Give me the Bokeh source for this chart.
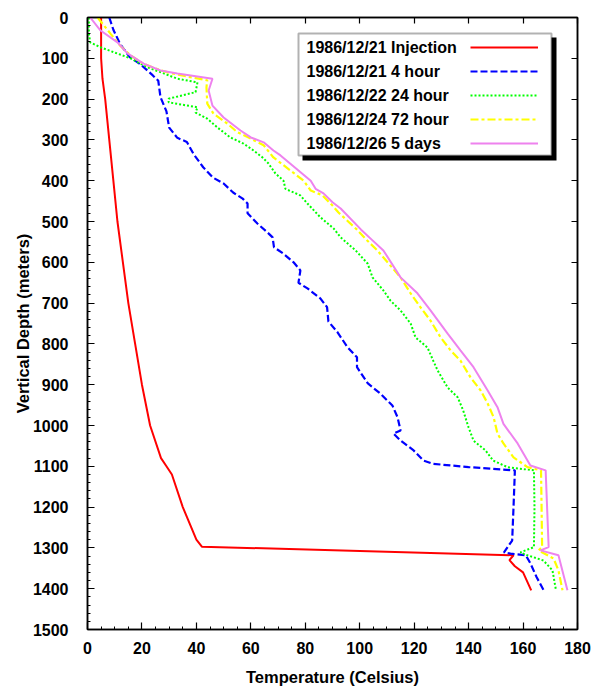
from bokeh.plotting import figure
from bokeh.models import Range1d, LinearAxis, FixedTicker, Legend, LegendItem, Label, BoxAnnotation
from bokeh.embed import file_html
from bokeh.resources import INLINE

# ---- data (temperature in Celsius, depth in meters) ----
red_depth = [0, 100, 150, 200, 300, 400, 500, 600, 700, 800, 900, 1000, 1080, 1100, 1120, 1200, 1280, 1297, 1318, 1330, 1345, 1360, 1404]
red_temp = [5, 5, 5.5, 6.5, 8, 9.5, 11, 13, 15, 17.5, 20, 23, 27, 29, 31, 35, 40, 42, 156.5, 155, 157, 160, 163]

blue_depth = [0, 30, 65, 97, 115, 142, 155, 195, 230, 270, 295, 305, 335, 367, 392, 407, 429, 444, 456, 480, 505, 526, 539, 563, 579, 600, 620, 650, 664, 689, 710, 745, 771, 808, 833, 857, 897, 922, 951, 980, 1012, 1020, 1037, 1061, 1086, 1094, 1102, 1110, 1200, 1282, 1311, 1314, 1318, 1338, 1372, 1404]
blue_temp = [8, 9.5, 12, 15.5, 19.5, 24, 26, 26.8, 29, 30, 33, 36.5, 39, 42.5, 46, 50, 53.5, 57, 58.8, 58.8, 62.4, 66, 68, 68.5, 72, 75.7, 78.2, 77.5, 80.8, 85.6, 88, 88.5, 91.8, 95.5, 99, 99, 103, 107.6, 112, 113.9, 115, 112.4, 115, 119.8, 123.4, 127, 140, 157, 156.5, 156, 153, 155.4, 161, 162.7, 165, 167.6]

green_depth = [0, 40, 61, 73, 85, 100, 122, 137, 150, 159, 183, 199, 208, 220, 233, 248, 270, 294, 309, 326, 343, 358, 382, 400, 420, 436, 456, 490, 517, 539, 571, 603, 637, 669, 694, 718, 750, 784, 809, 841, 865, 907, 931, 963, 1005, 1037, 1061, 1086, 1102, 1110, 1200, 1298, 1311, 1318, 1331, 1355, 1400]
green_temp = [0.5, 0.5, 1, 4.8, 9.6, 15.8, 22, 28, 33, 40.4, 39.7, 29.8, 29.8, 40.4, 39.7, 44, 47.8, 52.5, 57.3, 61, 64.3, 66.5, 69, 72, 72.7, 78.2, 80.8, 85.6, 90.4, 93, 98.5, 102.9, 104.7, 108.7, 111.3, 115, 118.7, 120.5, 124.9, 127, 128.6, 132.3, 136, 138, 140, 141.8, 146.2, 149, 154.3, 164, 164.2, 164, 159, 161.6, 167.5, 170.8, 172]

yellow_depth = [0, 40, 69, 93, 113, 130, 140, 154, 171, 211, 236, 260, 281, 297, 313, 343, 400, 424, 436, 461, 478, 520, 545, 571, 603, 637, 676, 710, 743, 784, 816, 841, 882, 914, 946, 980, 1020, 1044, 1078, 1102, 1110, 1200, 1298, 1306, 1326, 1355, 1404]
yellow_temp = [3.7, 8.5, 12, 15.8, 20.5, 27, 33, 44, 43.7, 44, 46.3, 51.4, 55, 60, 64.7, 68.3, 79.4, 82, 86.3, 90, 92.2, 99, 102.5, 106.5, 110.6, 115, 118.7, 122.3, 126, 129.7, 133.4, 137, 140.7, 144.4, 147, 149.2, 150.6, 152.8, 156.5, 161.6, 166.6, 166.8, 167, 165.7, 171.2, 173, 174.5]

pink_depth = [0, 32, 61, 88, 113, 130, 137, 150, 179, 216, 245, 277, 294, 306, 326, 338, 400, 420, 431, 453, 468, 520, 545, 571, 637, 676, 718, 775, 816, 857, 914, 955, 996, 1044, 1098, 1110, 1298, 1306, 1318, 1404]
pink_temp = [1, 4.8, 11, 14.7, 20.6, 26.8, 33, 45.9, 44.5, 45.9, 50, 56.2, 60, 64.7, 68.3, 70.9, 82, 83.8, 86.7, 90, 93, 100.5, 104.5, 108.7, 115, 121.2, 126, 132.3, 137, 141.8, 147, 150.6, 152.8, 158, 162.7, 168.3, 169.4, 166.4, 173, 176.3]

series_labels = ["1986/12/21 Injection", "1986/12/21 4 hour", "1986/12/22 24 hour",
                 "1986/12/24 72 hour", "1986/12/26 5 days"]

x_major = list(range(0, 181, 20))
x_minor = list(range(0, 181, 5))
y_major = list(range(0, 1501, 100))
y_minor = list(range(0, 1501, 20))

FONT = "Liberation Sans"

p = figure(width=601, height=689, x_range=Range1d(0, 180), y_range=Range1d(1500, 0),
           output_backend="svg", toolbar_location=None,
           min_border_left=87, min_border_top=17, min_border_right=24, min_border_bottom=60)
p.grid.visible = False
p.outline_line_color = "black"
p.outline_line_width = 1.5

def style_axis(ax):
    ax.axis_line_color = "black"
    ax.axis_line_width = 1.5
    ax.major_tick_in = 7
    ax.major_tick_out = 0
    ax.minor_tick_in = 3
    ax.minor_tick_out = 0
    ax.major_tick_line_color = "black"
    ax.minor_tick_line_color = "black"
    ax.major_tick_line_width = 1.2
    ax.major_label_text_font = FONT
    ax.major_label_text_font_style = "bold"
    ax.major_label_text_color = "black"
    ax.major_label_text_font_size = "16px"
    ax.axis_label_text_font = FONT
    ax.axis_label_text_font_style = "bold"
    ax.axis_label_text_color = "black"
    ax.axis_label_text_font_size = "16.5px"

p.xaxis.ticker = FixedTicker(ticks=x_major, minor_ticks=x_minor)
p.yaxis.ticker = FixedTicker(ticks=y_major, minor_ticks=y_minor)
style_axis(p.xaxis[0])
style_axis(p.yaxis[0])
p.xaxis.axis_label = "Temperature (Celsius)"
p.yaxis.axis_label = "Vertical Depth (meters)"
p.xaxis.major_label_standoff = 12
p.xaxis.axis_label_standoff = 11
p.yaxis.major_label_standoff = 19
p.yaxis.axis_label_standoff = -2

# mirror axes: only the major tick positions, drawn as tick marks without labels
def mirror_axis(ticks):
    ax = LinearAxis(ticker=FixedTicker(ticks=[], minor_ticks=ticks))
    ax.axis_line_color = "black"
    ax.axis_line_width = 1.5
    ax.minor_tick_in = 6
    ax.minor_tick_out = 0
    ax.minor_tick_line_color = "black"
    ax.minor_tick_line_width = 1.2
    ax.major_tick_line_color = None
    return ax

p.add_layout(mirror_axis(x_major), "above")
p.add_layout(mirror_axis(y_major), "right")

r_red = p.line(red_temp, red_depth, line_color="#ff0000", line_width=2)
r_blue = p.line(blue_temp, blue_depth, line_color="#0000ff", line_width=2.2, line_dash="7 3")
r_green = p.line(green_temp, green_depth, line_color="#00ff00", line_width=2, line_dash="2 2")
r_yellow = p.line(yellow_temp, yellow_depth, line_color="#ffff00", line_width=2.2, line_dash="8 3 3 3")
r_pink = p.line(pink_temp, pink_depth, line_color="#ee82ee", line_width=2)
renderers = [r_red, r_blue, r_green, r_yellow, r_pink]

# legend box (screen units relative to frame, y from bottom)
units = dict(left_units="screen", right_units="screen", top_units="screen", bottom_units="screen")
shadow = BoxAnnotation(left=215, right=469, top=592, bottom=469, fill_color="black", fill_alpha=1,
                       line_alpha=0, **units)
box = BoxAnnotation(left=211, right=464, top=596, bottom=474, fill_color="white", fill_alpha=1,
                    line_color="black", line_width=2, **units)
p.add_layout(shadow)
p.add_layout(box)

for i, txt in enumerate(series_labels):
    p.add_layout(Label(x=219, y=582 - 24 * i, x_units="screen", y_units="screen", text=txt,
                       text_baseline="middle", text_align="left", text_font=FONT,
                       text_font_style="bold", text_font_size="16px", text_color="black"))

legend = Legend(items=[LegendItem(label=" ", renderers=[r]) for r in renderers],
                location=(383, 476), glyph_width=68, glyph_height=20, label_width=0, label_height=20,
                label_standoff=0, spacing=4, padding=0, margin=0, border_line_alpha=0,
                background_fill_alpha=0, label_text_font_size="16px")
p.add_layout(legend)

open("out.html", "w").write(file_html(p, INLINE))
